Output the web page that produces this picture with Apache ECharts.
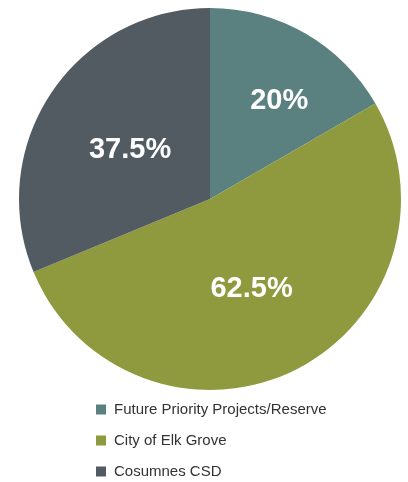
<!DOCTYPE html>
<html><head><meta charset="utf-8">
<script src="https://cdn.jsdelivr.net/npm/echarts@6/dist/echarts.min.js"></script>
<style>html,body{margin:0;padding:0;background:#fff}#c{width:408px;height:482px}</style>
</head><body><div id="c"></div>
<script>
const categories = ['Future Priority Projects/Reserve', 'City of Elk Grove', 'Cosumnes CSD'];
const values = [20, 62.5, 37.5];
const colors = ['#5a8080', '#8f9a3f', '#535b62'];
const labelOffsets = [[20, -13], [-2, 2], [2, 6]];

const chart = echarts.init(document.getElementById('c'));
chart.setOption({
  animation: false,
  legend: {
    orient: 'vertical',
    left: 96,
    top: 402,
    width: 300,
    height: 150,
    padding: 0,
    itemWidth: 10,
    itemHeight: 10,
    itemGap: 16,
    icon: 'rect',
    textStyle: { fontFamily: 'Liberation Sans, Arial, sans-serif', fontSize: 15, color: '#333', padding: [0, 0, 0, 3] },
    data: categories
  },
  series: [{
    type: 'pie',
    center: [210, 199],
    radius: [0, 191],
    startAngle: 90,
    clockwise: true,
    label: {
      position: 'inside',
      formatter: p => p.value + '%',
      color: '#fff',
      fontSize: 29,
      fontWeight: 'bold',
      fontFamily: 'Liberation Sans, Arial, sans-serif'
    },
    labelLine: { show: false },
    itemStyle: { borderWidth: 0 },
    emphasis: { disabled: true },
    data: categories.map((n, i) => ({
      name: n, value: values[i],
      itemStyle: { color: colors[i] },
      label: { offset: labelOffsets[i] }
    }))
  }]
});
</script></body></html>
